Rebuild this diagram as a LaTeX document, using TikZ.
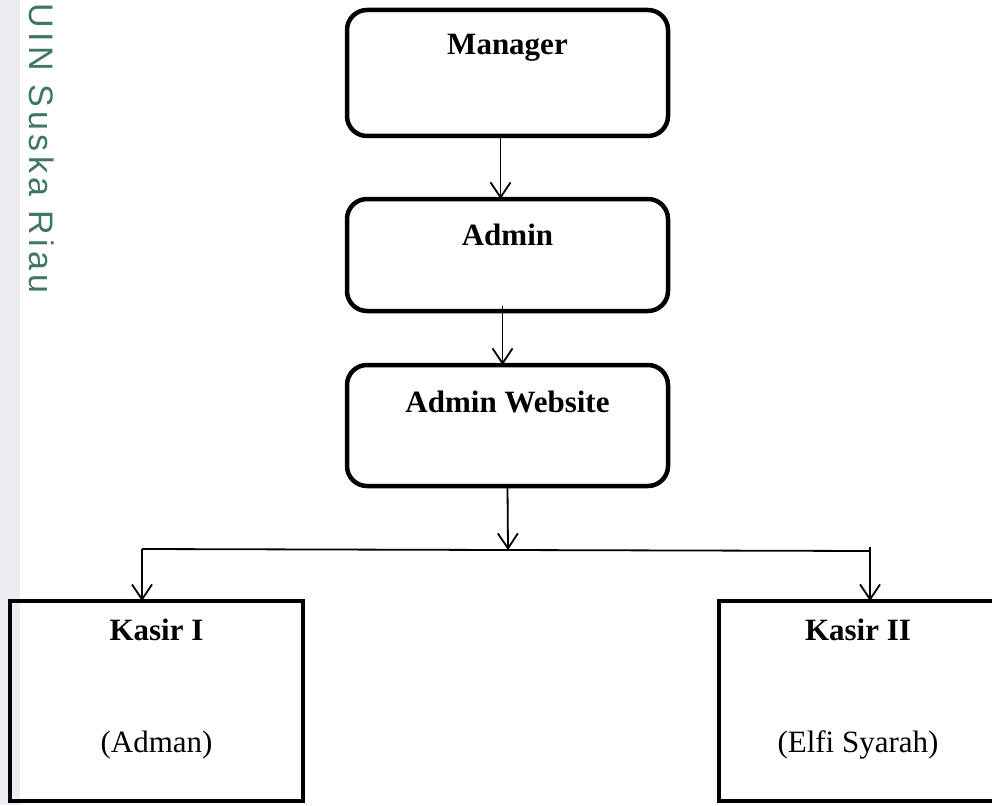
\documentclass[tikz,border=0pt]{standalone}
\usepackage{fontspec}
\setmainfont{Liberation Serif}
\newfontfamily\sidefont[LetterSpace=13]{Liberation Sans}
\usetikzlibrary{positioning,arrows.meta}
\definecolor{sidegreen}{RGB}{62,118,96}
\definecolor{sidestrip}{RGB}{236,236,242}
\begin{document}
\begin{tikzpicture}[x=1pt,y=-1pt,>={Straight Barb[length=15pt,width=20pt]},
  head node/.style={rectangle,rounded corners=20pt,draw,line width=4.5pt,minimum width=321pt,
    inner ysep=0pt,outer sep=0pt,font=\fontsize{31}{37}\selectfont\bfseries},
  staff node/.style={rectangle,draw,line width=4.5pt,inner ysep=0pt,outer sep=0pt,
    text height=39pt,text depth=161pt,font=\fontsize{31}{37}\selectfont\bfseries},
  name text/.style={anchor=base,font=\fontsize{31}{37}\selectfont}]

  \useasboundingbox (0,0) rectangle (992,805);
  \fill[sidestrip] (0,0) rectangle (20,805);
  \node[rotate=-90,anchor=west,inner sep=0pt,text=sidegreen,font=\sidefont\fontsize{34}{40}\selectfont] (campus) at (42,3) {UIN Suska Riau};

  \node[head node,anchor=north west,text height=45pt,text depth=81pt] (manager) at (347,10) {Manager};
  \node[head node,below=63pt of manager,text height=46pt,text depth=66pt] (admin) {Admin};
  \node[head node,below=54pt of admin,text height=47pt,text depth=74pt] (website) {Admin Website};

  \node[staff node,anchor=north west,minimum width=293pt] (kasir1) at (10,601) {Kasir I};
  \node[staff node,anchor=north west,minimum width=278pt] (kasir2) at (719,601) {Kasir II};
  \node[name text] (adman) at ([yshift=-112pt]kasir1.base) {(Adman)};
  \node[name text] (elfi) at ([yshift=-112pt]kasir2.base) {(Elfi Syarah)};

  \coordinate (split) at (508,550);
  \coordinate (left end) at (142,549);
  \coordinate (right end) at (870,551);

  \draw[->,line width=1.8pt] ([xshift=-7pt]manager.south) -- ([xshift=-7pt]admin.north);
  \draw[->,line width=1.8pt] ([xshift=-5pt,yshift=5pt]admin.south) -- ([xshift=-5pt]website.north);
  \draw[->,line width=1.8pt] (website.south) -- (split);
  \draw[line width=1.8pt] (left end) -- (right end);
  \draw[->,line width=1.8pt] (left end) -- (left end |- kasir1.north);
  \draw[->,line width=1.8pt] ([yshift=4pt]right end) -- (right end |- kasir2.north);
\end{tikzpicture}
\end{document}
